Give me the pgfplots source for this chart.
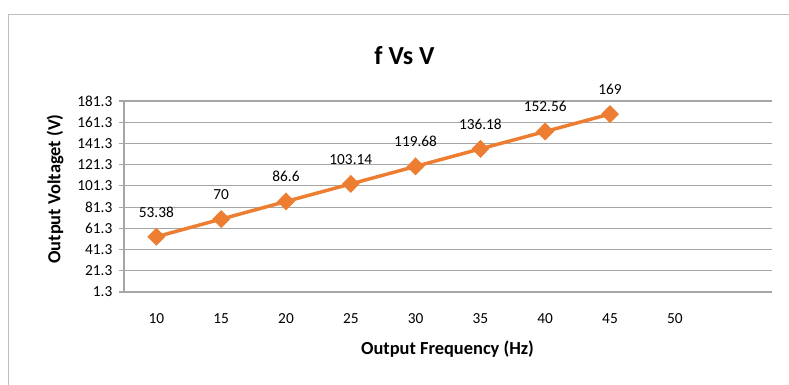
\documentclass[border=0pt]{standalone}
\usepackage{pgfplots}
\pgfplotsset{compat=1.18}
\usepackage{fontspec}
\setmainfont{Carlito}
\definecolor{xlorange}{HTML}{ED7D31}
\definecolor{gridgray}{HTML}{A6A6A6}
\definecolor{framegray}{HTML}{BFBFBF}
\begin{document}
\begin{tikzpicture}[x=0.75pt,y=0.75pt]
\path[use as bounding box] (0,0) rectangle (789,385);
\clip (0,0) rectangle (789,385);
\draw[framegray, line width=0.75pt] (8,-10) -- (8,370) -- (800,370);
\node[font=\fontsize{19.5}{23}\selectfont\bfseries] at (404.5,329) {f Vs V};
\begin{axis}[
  at={(93pt,69.75pt)}, anchor=south west,
  scale only axis, width=486pt, height=143.25pt,
  xmin=-0.5, xmax=9.5, ymin=1.3, ymax=181.3,
  xtick={0,1,2,3,4,5,6,7,8},
  xticklabels={10,15,20,25,30,35,40,45,50},
  ytick={1.3,21.3,41.3,61.3,81.3,101.3,121.3,141.3,161.3,181.3},
  yticklabels={1.3,21.3,41.3,61.3,81.3,101.3,121.3,141.3,161.3,181.3},
  axis x line=bottom, axis y line=left,
  axis line style={-, gridgray, line width=0.9pt},
  x axis line style={draw=none},
  ymajorgrids, grid style={gridgray, line width=0.9pt},
  tick align=outside,
  ytick style={gridgray, line width=0.9pt},
  major tick length=3.75pt,
  xtick style={draw=none},
  tick label style={font=\fontsize{11.5}{13}\selectfont},
  xticklabel style={yshift=-9pt},
  yticklabel style={xshift=-1.5pt},
  clip=false,
]
\addplot[xlorange, line width=2.6pt, mark=diamond*, mark size=4.9pt,
  mark options={xscale=1.33, solid},
  point meta=explicit symbolic,
  nodes near coords,
  nodes near coords style={font=\fontsize{11.5}{13}\selectfont, text=black, anchor=south, yshift=10pt},
] coordinates {
  (0,53.38) [53.38]
  (1,70) [70]
  (2,86.6) [86.6]
  (3,103.14) [103.14]
  (4,119.68) [119.68]
  (5,136.18) [136.18]
  (6,152.56) [152.56]
  (7,169) [169]
};
\end{axis}
\node[font=\fontsize{13.8}{16}\selectfont\bfseries] at (447.5,36) {Output Frequency (Hz)};
\node[font=\fontsize{13.8}{16}\selectfont\bfseries, rotate=90] at (55,196) {Output Voltaget (V)};
\end{tikzpicture}
\end{document}
